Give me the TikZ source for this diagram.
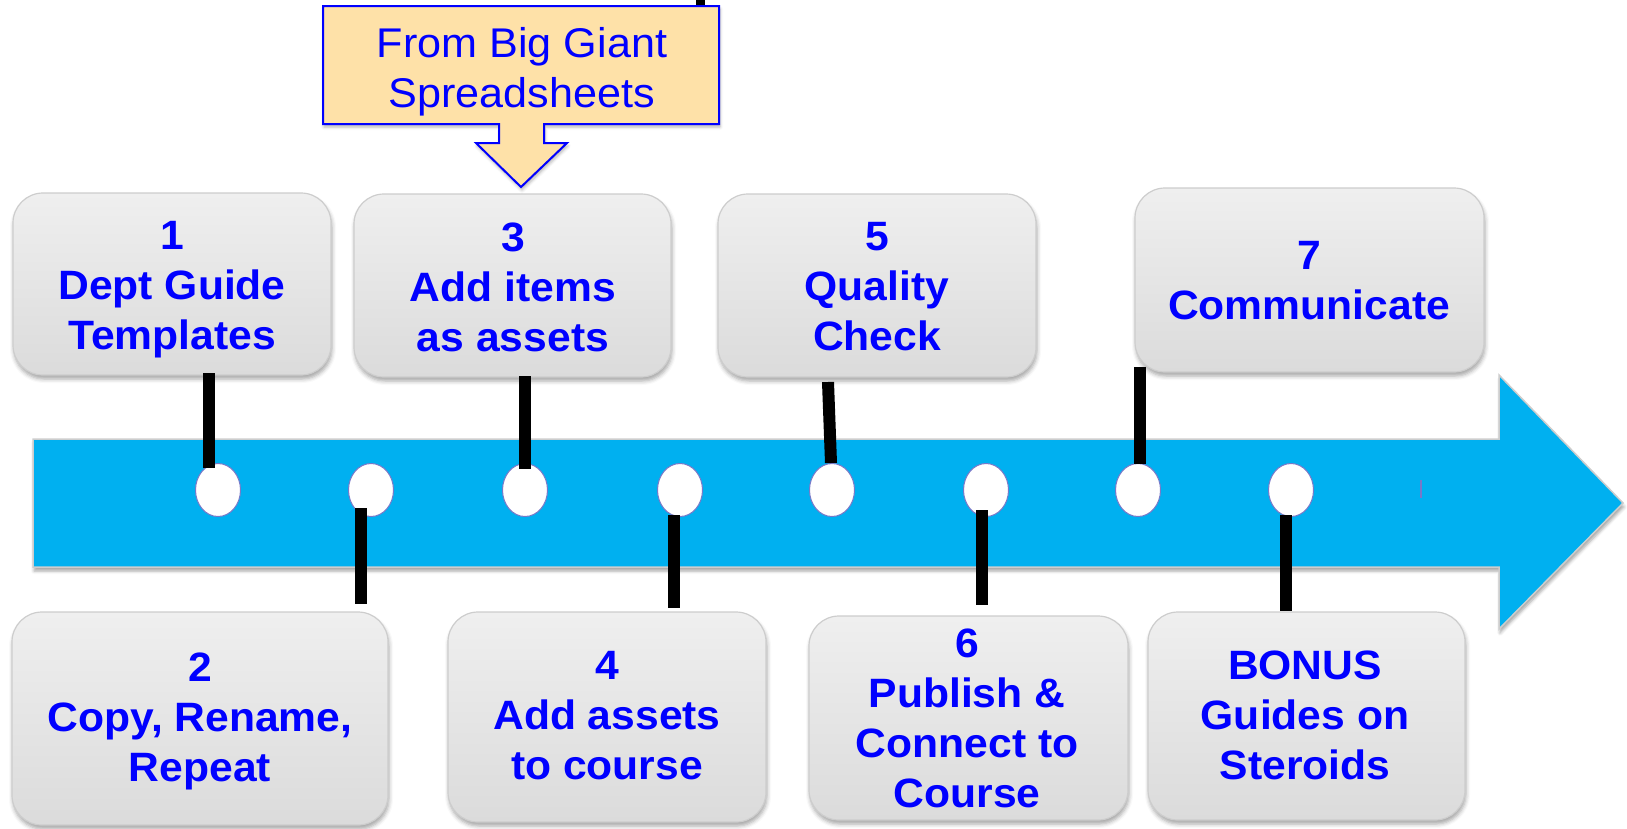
\documentclass[tikz,border=0pt]{standalone}
\usepackage{fontspec}
\setmainfont{Liberation Sans}[FakeStretch=1.04]
\usetikzlibrary{shadows.blur,shapes.geometric,calc}
\definecolor{arrowblue}{RGB}{0,176,240}
\definecolor{boxtop}{RGB}{239,239,239}
\definecolor{boxbot}{RGB}{219,219,219}
\definecolor{boxedge}{RGB}{205,205,205}
\definecolor{callfill}{RGB}{254,225,168}
\definecolor{txtblue}{RGB}{0,0,255}
\definecolor{ringcol}{RGB}{120,120,200}
\begin{document}
\begin{tikzpicture}[x=1pt,y=-1pt,
  stepbox/.style={draw=boxedge, line width=1.2pt, rounded corners=30pt,
    top color=boxtop, bottom color=boxbot, inner sep=0pt, outer sep=0pt,
    blur shadow={shadow xshift=1pt, shadow yshift=-4pt, shadow blur radius=4pt, shadow opacity=35}},
  steptext/.style={anchor=north, inner sep=0pt, align=center, text=txtblue,
    font=\fontsize{41}{50}\selectfont\bfseries},
  dot/.style={ellipse, draw=ringcol, line width=1pt, fill=white, minimum width=45pt,
    minimum height=53pt, inner sep=0pt, outer sep=0pt},
  link/.style={line width=12pt, black}]
\useasboundingbox (0,0) rectangle (1627,828);

% small black mark at top edge
\fill[black] (696,0) rectangle (705,9);

% main arrow
\path[fill=arrowblue, draw=boxedge, line width=1.5pt,
  blur shadow={shadow xshift=1pt, shadow yshift=-4pt, shadow blur radius=3pt, shadow opacity=35}]
  (33,439) -- (1499,439) -- (1499,375) -- (1623,503) -- (1499,629) -- (1499,567) -- (33,567) -- cycle;
\draw[ringcol, line width=2pt] (1421,480) -- (1421,498);

% circles
\node[dot] (c1) at (218,490) {};
\node[dot] (c2) at (371,490) {};
\node[dot] (c3) at (525,490) {};
\node[dot] (c4) at (680,490) {};
\node[dot] (c5) at (832,490) {};
\node[dot] (c6) at (986,490) {};
\node[dot] (c7) at (1138,490) {};
\node[dot] (c8) at (1291,490) {};

% boxes
\node[stepbox, minimum width=318pt, minimum height=182pt] (b1) at (172,284) {};
\node[stepbox, minimum width=317pt, minimum height=183pt] (b3) at (512.5,285.5) {};
\node[stepbox, minimum width=318pt, minimum height=183pt] (b5) at (877,285.5) {};
\node[stepbox, minimum width=349pt, minimum height=184pt] (b7) at (1309.5,280) {};
\node[stepbox, minimum width=376pt, minimum height=213pt] (b2) at (200,718.5) {};
\node[stepbox, minimum width=318pt, minimum height=210pt] (b4) at (607,717) {};
\node[stepbox, minimum width=319pt, minimum height=204pt] (b6) at (968.5,718) {};
\node[stepbox, minimum width=317pt, minimum height=208pt] (b8) at (1306.5,716) {};

% connectors
\coordinate (x1) at (209,0);
\coordinate (x2) at (361,0);
\coordinate (x3) at (525,0);
\coordinate (x4) at (674,0);
\coordinate (x5a) at (828,0);
\coordinate (x5b) at (831,0);
\coordinate (x6) at (982,0);
\coordinate (x7) at (1140,0);
\coordinate (x8) at (1286,0);
\draw[link] ($(b1.south -| x1)+(0,-2)$) -- ($(c1.north -| x1)+(0,4.5)$);
\draw[link] ($(c2.south -| x2)+(0,-8.5)$) -- ($(b2.north -| x2)+(0,-8)$);
\draw[link] ($(b3.south -| x3)+(0,-1)$) -- ($(c3.north -| x3)+(0,5.5)$);
\draw[link] ($(c4.south -| x4)+(0,-1.5)$) -- ($(b4.north -| x4)+(0,-4)$);
\draw[link] ($(b5.south -| x5a)+(0,5)$) -- ($(c5.north -| x5b)+(0,-0.5)$);
\draw[link] ($(c6.south -| x6)+(0,-6.5)$) -- ($(b6.north -| x6)+(0,-11)$);
\draw[link] ($(b7.south -| x7)+(0,-5)$) -- (c7.north -| x7);
\draw[link] ($(c8.south -| x8)+(0,-1.5)$) -- ($(b8.north -| x8)+(0,-1)$);

% texts
\node[steptext] (t1) at (172,221.5) {1\\Dept Guide\\Templates};
\node[steptext] (t3) at (513,222.5) {3\\Add items\\as assets};
\node[steptext] (t5) at (877,222.5) {5\\Quality\\Check};
\node[steptext] (t7) at (1309,241.5) {7\\Communicate};
\node[steptext] (t2) at (200,652.5) {2\\Copy, Rename,\\Repeat};
\node[steptext] (t4) at (607,651.5) {4\\Add assets\\to course};
\node[steptext] (t6) at (967,628.5) {6\\Publish \&\\Connect to\\Course};
\node[steptext] (t8) at (1305,650.5) {BONUS\\Guides on\\Steroids};

% callout
\path[fill=callfill, draw=txtblue, line width=2pt,
  blur shadow={shadow xshift=1pt, shadow yshift=-3pt, shadow blur radius=3pt, shadow opacity=30}]
  (323,6) -- (719,6) -- (719,124) -- (544,124) -- (544,143) -- (567,143) -- (521,187)
  -- (476,143) -- (499,143) -- (499,124) -- (323,124) -- cycle;
\node[anchor=north, inner sep=0pt, align=center, text=txtblue,
  font=\fontsize{41.5}{50}\selectfont] (callout) at (522,27) {From Big Giant\\Spreadsheets};
\end{tikzpicture}
\end{document}
